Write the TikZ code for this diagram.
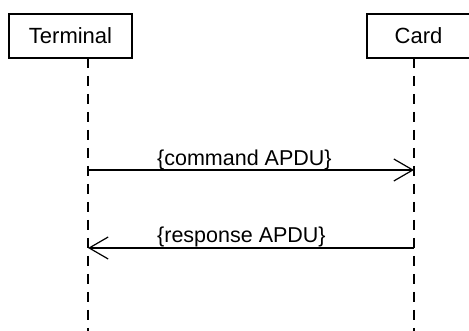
\documentclass[tikz,border=0pt]{standalone}
\usepackage{fontspec}
\setmainfont{Liberation Sans}
\usetikzlibrary{arrows.meta}
\begin{document}
\begin{tikzpicture}[x=1pt,y=-1pt,
  actor/.style={draw,line width=1.3pt,inner sep=0pt,font=\fontsize{22}{26}\selectfont},
  lifeline/.style={line width=1.2pt,dash pattern=on 10pt off 8pt},
  msg/.style={line width=1.2pt,-{Straight Barb[length=19pt,width=22pt,line width=1.2pt]}},
  msglabel/.style={anchor=base west,inner sep=0pt,font=\fontsize{21.5}{25}\selectfont}]
\useasboundingbox (0,0) rectangle (469,331);
\clip (0,0) rectangle (469,331);
\node[actor,minimum width=123pt,minimum height=44pt] (term) at (70.5,36) {Terminal};
\node[actor,minimum width=103pt,minimum height=44pt] (card) at (418.5,36) {Card};
\coordinate (ttop) at (88,58);
\coordinate (tbot) at (88,340);
\coordinate (ctop) at (414,58);
\coordinate (cbot) at (414,340);
\draw[lifeline] (ttop) -- (tbot);
\draw[lifeline] (ctop) -- (cbot);
\coordinate (c1) at (88,170);
\coordinate (c2) at (414,170);
\coordinate (r1) at (414,248);
\coordinate (r2) at (88,248);
\draw[msg] (c1) -- (c2);
\draw[msg] (r1) -- (r2);
\node[msglabel] (cmd) at (157,166) {\{command APDU\}};
\node[msglabel] (rsp) at (157,243) {\{response APDU\}};
\end{tikzpicture}
\end{document}
